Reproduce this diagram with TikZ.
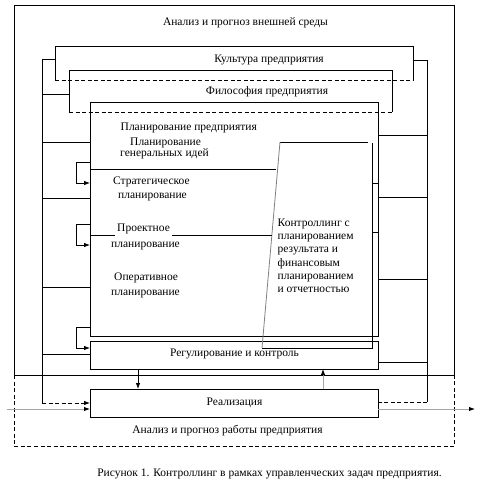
\documentclass[tikz,border=0pt]{standalone}
\usepackage{fontspec}
\setmainfont{Liberation Serif}
\usetikzlibrary{arrows.meta,fit}
\begin{document}
\begin{tikzpicture}[x=1pt,y=-1pt,
  ln/.style={line width=0.8pt,black},
  dsh/.style={line width=0.8pt,dash pattern=on 4pt off 2.5pt},
  grayln/.style={line width=1pt,gray!70},
  arr/.style={-{Latex[length=6pt,width=4.5pt,black]}},
  region/.style={inner sep=0pt,outer sep=0pt},
  lbl/.style={inner sep=0pt,font=\fontsize{11.5}{13}\selectfont},
  lblw/.style={lbl,anchor=base west},
  lblc/.style={lbl,anchor=base}]
\useasboundingbox[fill=white] (0,0) rectangle (491,485);
% regions
\node[region,fit={(14,5) (454,375)}] (outer) {};
\node[region,fit={(14,375) (454,446)}] (lower) {};
\node[region,fit={(55,46) (413,80)}] (kult) {};
\node[region,fit={(69,70) (392,112)}] (filo) {};
\node[region,fit={(90,102) (378,336)}] (inner) {};
\node[region,fit={(90,341) (378,369)}] (reg) {};
\node[region,fit={(90,389) (378,417)}] (real) {};
% outer boxes
\draw[dsh] (lower.north west) -- (lower.south west) -- (lower.south east) -- (lower.north east);
\draw[ln] (outer.north west) rectangle (outer.south east);
\draw[ln] (kult.south west) -- (kult.north west) -- (kult.north east) -- (kult.south east);
\draw[dsh] (kult.south west) -- (kult.south east);
\draw[ln] (filo.south west) -- (filo.north west) -- (filo.north east) -- (filo.south east);
\draw[dsh] (filo.south west) -- (filo.south east);
\draw[ln] (inner.north west) rectangle (inner.south east);
\draw[ln] (reg.north west) rectangle (reg.south east);
\draw[ln] (real.north west) rectangle (real.south east);
% controlling box
\coordinate (c1) at (280,142);
\coordinate (c2) at (368,142);
\coordinate (c3) at (372,143);
\coordinate (c4) at (372,348);
\coordinate (c5) at (262,348);
\draw[ln] (c1) -- (c2);
\draw[ln] (c3) -- (c4) -- (c5);
\draw[line width=0.8pt,gray] (c5) -- (c1);
\draw[ln] (c3 |- 0,183) -- (inner.east |- 0,183);
\draw[ln] (c3 |- 0,232) -- (inner.east |- 0,232);
% internal separators
\draw[ln] (inner.west |- 0,169) -- (276,169);
\draw[ln] (inner.west |- 0,235) -- (115,235);
\draw[ln] (172,235) -- (272,235);
% left bus
\coordinate (lt) at (42,59);
\coordinate (lb) at (42,403);
\draw[ln] (kult.west |- lt) -- (lt) -- (lb);
\draw[dsh,arr] (lb) -- (real.west |- lb);
\foreach \yy/\tgt in {94/filo,142/inner,198/inner,287/inner,354/reg}
  \draw[ln] (42,\yy) -- (\tgt.west |- 0,\yy);
% right bus
\coordinate (rt) at (427,60);
\coordinate (rb) at (427,402);
\draw[ln] (kult.east |- rt) -- (rt) -- (rb);
\draw[dsh] (rb) -- (real.east |- rb);
\foreach \yy/\tgt in {135/inner,197/inner,279/inner,362/reg}
  \draw[ln] (427,\yy) -- (\tgt.east |- 0,\yy);
% small feedback loops
\foreach \ya/\yb in {162/183,224/245,327/348}
  \draw[ln,arr] (inner.west |- 0,\ya) -- (76,\ya) -- (76,\yb) -- (inner.west |- 0,\yb);
% reg <-> real
\draw[ln,arr] (reg.south -| 138,0) -- (real.north -| 138,0);
\draw[grayln,arr] (real.north -| 323,0) -- (reg.south -| 323,0);
% input / output
\coordinate (inp) at (7,409);
\coordinate (outp) at (475,409);
\draw[grayln,arr] (inp) -- (real.west |- inp);
\draw[grayln,arr] (real.east |- outp) -- (outp);
% texts
\node[lblc] (t1) at (245.5,25) {Анализ и прогноз внешней среды};
\node[lblc] (t2) at (269,62) {Культура предприятия};
\node[lblc] (t3) at (267,94) {Философия предприятия};
\node[lblw] (t4) at (120.5,130) {Планирование предприятия};
\node[lblw] (t5) at (130,145.5) {Планирование};
\node[lblw] (t6) at (120,156.5) {генеральных идей};
\node[lblw] (t7) at (113,184) {Стратегическое};
\node[lblw] (t8) at (118,198.5) {планирование};
\node[lblw] (t9) at (117,231.5) {Проектное};
\node[lblw] (t10) at (111,247) {планирование};
\node[lblw] (t11) at (114,280) {Оперативное};
\node[lblw] (t12) at (111,295) {планирование};
\node[lblw] (k1) at (277.5,226) {Контроллинг с};
\node[lblw] (k2) at (277.5,239.5) {планированием};
\node[lblw] (k3) at (277.5,252.5) {результата и};
\node[lblw] (k4) at (277.5,266) {финансовым};
\node[lblw] (k5) at (277.5,279) {планированием};
\node[lblw] (k6) at (277.5,292) {и отчетностью};
\node[lblc] (t13) at (234.5,356.5) {Регулирование и контроль};
\node[lblc] (t14) at (234.5,405.5) {Реализация};
\node[lblc] (t15) at (227.5,433) {Анализ и прогноз работы предприятия};
\node[lblc] (cap) at (269.5,476) {Рисунок 1. Контроллинг в рамках управленческих задач предприятия.};
\end{tikzpicture}
\end{document}
